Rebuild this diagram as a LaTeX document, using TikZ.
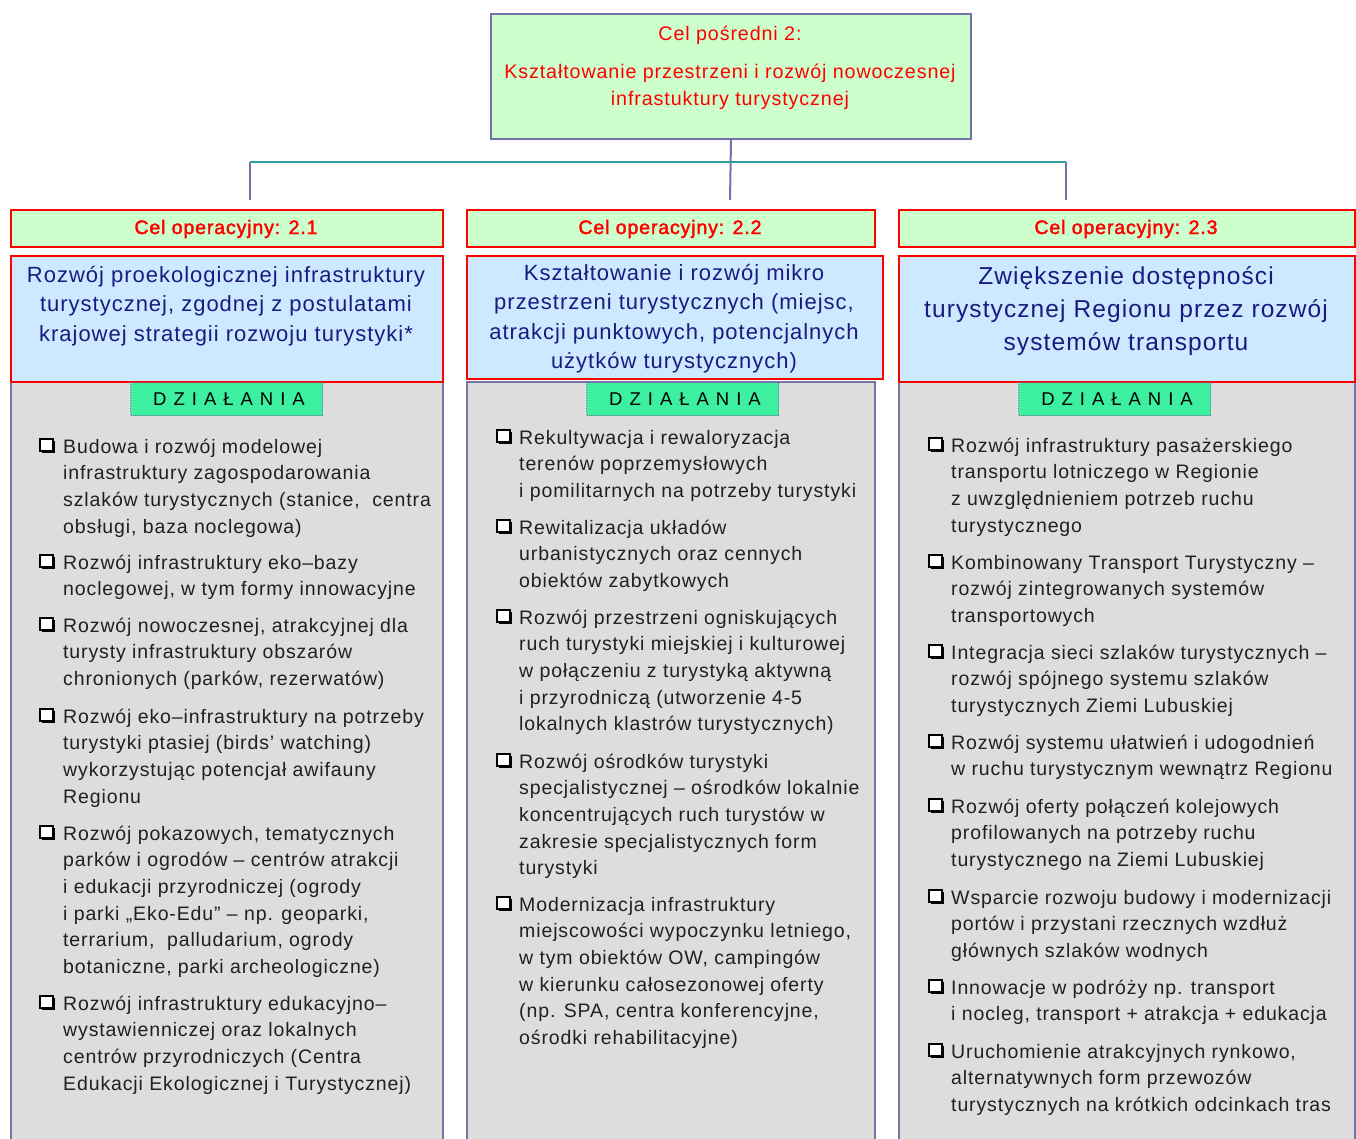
\documentclass[tikz,border=0pt]{standalone}
\usepackage{fontspec}
\usetikzlibrary{shadows,calc}
\setmainfont{Liberation Sans}[LetterSpace=4.5]
\newfontfamily\headfont{Liberation Sans}[LetterSpace=4.5,FakeBold=2]

\definecolor{mintfill}{HTML}{CCFFCC}
\definecolor{skyfill}{HTML}{CCE9FF}
\definecolor{panelgrey}{HTML}{DDDDDD}
\definecolor{slateline}{HTML}{7373A8}
\definecolor{tealline}{HTML}{2E9C9C}
\definecolor{goalred}{HTML}{FF0000}
\definecolor{navytext}{HTML}{1A1A80}
\definecolor{actgreen}{HTML}{3CF0A0}
\definecolor{bodytext}{HTML}{202020}

\tikzset{
  topbox/.style={draw=slateline, line width=2pt, fill=mintfill, inner sep=0pt, anchor=north west},
  celbox/.style={draw=goalred, line width=2pt, fill=mintfill, inner sep=0pt, anchor=north west, minimum height=37pt},
  goalbox/.style={draw=goalred, line width=2pt, fill=skyfill, inner sep=0pt, anchor=north west},
  panelbox/.style={draw=slateline, line width=2pt, fill=panelgrey, inner sep=0pt, anchor=north west, minimum height=800pt},
  actlabel/.style={draw=slateline, densely dotted, line width=1pt, fill=actgreen, inner sep=0pt, anchor=north west, minimum width=192pt, minimum height=33pt},
  acttext/.style={anchor=base, inner sep=0pt, text=black, font=\fontsize{18.5}{20}\selectfont\addfontfeatures{LetterSpace=10}},
  toptext/.style={anchor=base, inner sep=0pt, text=goalred, font=\fontsize{19.7}{24}\selectfont},
  celtext/.style={anchor=base, inner sep=0pt, text=goalred, font=\headfont\fontsize{19.5}{24}\selectfont},
  goaltext/.style={anchor=base, inner sep=0pt, text=navytext},
  bul/.style={draw=black, line width=1.1pt, fill=white, inner sep=0pt, minimum width=13pt, minimum height=12pt,
    drop shadow={shadow xshift=2.2pt, shadow yshift=-2.2pt, fill=black, opacity=1}},
  item/.style={anchor=base west, inner sep=0pt, text=bodytext, font=\fontsize{19.5}{26.7}\selectfont}
}
\tikzset{
  link/.style={draw=slateline, line width=2pt},
  bar/.style={draw=tealline, line width=2pt}
}

% stacked lines whose first baseline is the node's baseline
\newcommand\leftlines[1]{\begin{tabular}[t]{@{}l@{}}#1\end{tabular}}
\newcommand\midlines[1]{\begin{tabular}[t]{@{}c@{}}#1\end{tabular}}

% one bulleted action: name, bullet x, text x, first baseline, lines
\newcommand\actitem[5]{%
  \node[bul] (#1b) at (#2+6.5,#4-8) {};
  \node[item] (#1) at (#3,#4) {\leftlines{#5}};
}

\begin{document}
\begin{tikzpicture}[x=1pt, y=-1pt]
\useasboundingbox (0,0) rectangle (1356,1138);
\clip (0,0) rectangle (1356,1138);

% intermediate goal
\node[topbox, minimum width=480pt, minimum height=125pt] (top) at (490,13) {};
\node[toptext] (topa) at (730,40) {Cel pośredni 2:};
\node[toptext] (topb) at (730,78) {Kształtowanie przestrzeni i rozwój nowoczesnej};
\node[toptext] (topc) at (730,105) {infrastuktury turystycznej};

% tree connectors
\coordinate (jl) at (250,162);
\coordinate (jr) at (1066,162);
\coordinate (el) at (250,200);
\coordinate (em) at (730,200);
\coordinate (er) at (1066,200);
\draw[link] (top.south) -- (em);
\draw[link] (jl) -- (el);
\draw[link] (jr) -- (er);
\draw[bar] (jl) -- (jr);

% action panels
\node[panelbox, minimum width=432pt] (pan1) at (10,381) {};
\node[panelbox, minimum width=408pt] (pan2) at (466,381) {};
\node[panelbox, minimum width=456pt] (pan3) at (898,381) {};

% operational goals
\node[celbox, minimum width=432pt] (cel1) at (10,209) {};
\node[celbox, minimum width=408pt] (cel2) at (466,209) {};
\node[celbox, minimum width=456pt] (cel3) at (898,209) {};
\node[celtext] (cel1t) at (226,234) {Cel operacyjny: 2.1};
\node[celtext] (cel2t) at (670,234) {Cel operacyjny: 2.2};
\node[celtext] (cel3t) at (1126,234) {Cel operacyjny: 2.3};

\node[goalbox, minimum width=432pt, minimum height=126pt] (goal1) at (10,255) {};
\node[goalbox, minimum width=416pt, minimum height=123pt] (goal2) at (466,255) {};
\node[goalbox, minimum width=456pt, minimum height=126pt] (goal3) at (898,255) {};
\node[goaltext, font=\fontsize{22}{29.7}\selectfont] (goal1t) at (226,282) {\midlines{Rozwój proekologicznej infrastruktury\\turystycznej, zgodnej z postulatami\\krajowej strategii rozwoju turystyki*}};
\node[goaltext, font=\fontsize{22}{29.5}\selectfont] (goal2t) at (674,280) {\midlines{Kształtowanie i rozwój mikro\\przestrzeni turystycznych (miejsc,\\atrakcji punktowych, potencjalnych\\użytków turystycznych)}};
\node[goaltext, font=\fontsize{24.5}{33.3}\selectfont] (goal3t) at (1126,284) {\midlines{Zwiększenie dostępności\\turystycznej Regionu przez rozwój\\systemów transportu}};

% action labels
\node[actlabel] (act1) at (130,382) {};
\node[actlabel] (act2) at (586,382) {};
\node[actlabel] (act3) at (1018,382) {};
\node[acttext] (act1t) at (229,405) {D Z I A Ł A N I A};
\node[acttext] (act2t) at (685,405) {D Z I A Ł A N I A};
\node[acttext] (act3t) at (1117,405) {D Z I A Ł A N I A};

% column 2.1
\actitem{a1}{40}{63}{453}{Budowa i rozwój modelowej\\infrastruktury zagospodarowania\\szlaków turystycznych (stanice,\ \ centra\\obsługi, baza noclegowa)}
\actitem{a2}{40}{63}{569}{Rozwój infrastruktury eko–bazy\\noclegowej, w tym formy innowacyjne}
\actitem{a3}{40}{63}{632}{Rozwój nowoczesnej, atrakcyjnej dla\\turysty infrastruktury obszarów\\chronionych (parków, rezerwatów)}
\actitem{a4}{40}{63}{723}{Rozwój eko–infrastruktury na potrzeby\\turystyki ptasiej (birds’ watching)\\wykorzystując potencjał awifauny\\Regionu}
\actitem{a5}{40}{63}{840}{Rozwój pokazowych, tematycznych\\parków i ogrodów – centrów atrakcji\\i edukacji przyrodniczej (ogrody\\i parki „Eko-Edu” – np. geoparki,\\terrarium,\ \ palludarium, ogrody\\botaniczne, parki archeologiczne)}
\actitem{a6}{40}{63}{1010}{Rozwój infrastruktury edukacyjno–\\wystawienniczej oraz lokalnych\\centrów przyrodniczych (Centra\\Edukacji Ekologicznej i Turystycznej)}

% column 2.2
\actitem{b1}{497}{519}{444}{Rekultywacja i rewaloryzacja\\terenów poprzemysłowych\\i pomilitarnych na potrzeby turystyki}
\actitem{b2}{497}{519}{534}{Rewitalizacja układów\\urbanistycznych oraz cennych\\obiektów zabytkowych}
\actitem{b3}{497}{519}{624}{Rozwój przestrzeni ogniskujących\\ruch turystyki miejskiej i kulturowej\\w połączeniu z turystyką aktywną\\i przyrodniczą (utworzenie 4-5\\lokalnych klastrów turystycznych)}
\actitem{b4}{497}{519}{768}{Rozwój ośrodków turystyki\\specjalistycznej – ośrodków lokalnie\\koncentrujących ruch turystów w\\zakresie specjalistycznych form\\turystyki}
\actitem{b5}{497}{519}{911}{Modernizacja infrastruktury\\miejscowości wypoczynku letniego,\\w tym obiektów OW, campingów\\w kierunku całosezonowej oferty\\(np. SPA, centra konferencyjne,\\ośrodki rehabilitacyjne)}

% column 2.3
\actitem{c1}{929}{951}{452}{Rozwój infrastruktury pasażerskiego\\transportu lotniczego w Regionie\\z uwzględnieniem potrzeb ruchu\\turystycznego}
\actitem{c2}{929}{951}{569}{Kombinowany Transport Turystyczny –\\rozwój zintegrowanych systemów\\transportowych}
\actitem{c3}{929}{951}{659}{Integracja sieci szlaków turystycznych –\\rozwój spójnego systemu szlaków\\turystycznych Ziemi Lubuskiej}
\actitem{c4}{929}{951}{749}{Rozwój systemu ułatwień i udogodnień\\w ruchu turystycznym wewnątrz Regionu}
\actitem{c5}{929}{951}{813}{Rozwój oferty połączeń kolejowych\\profilowanych na potrzeby ruchu\\turystycznego na Ziemi Lubuskiej}
\actitem{c6}{929}{951}{904}{Wsparcie rozwoju budowy i modernizacji\\portów i przystani rzecznych wzdłuż\\głównych szlaków wodnych}
\actitem{c7}{929}{951}{994}{Innowacje w podróży np. transport\\i nocleg, transport + atrakcja + edukacja}
\actitem{c8}{929}{951}{1058}{Uruchomienie atrakcyjnych rynkowo,\\alternatywnych form przewozów\\turystycznych na krótkich odcinkach tras}
\end{tikzpicture}
\end{document}
